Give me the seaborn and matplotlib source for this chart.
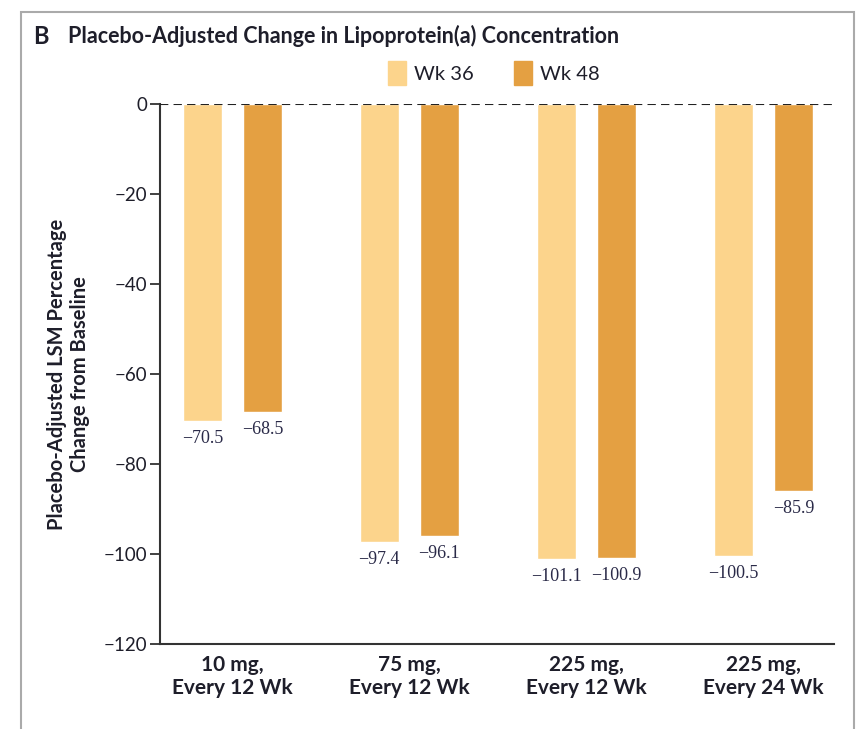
import pandas as pd
import matplotlib.pyplot as plt
from matplotlib.patches import Rectangle
import seaborn as sns

doses = ["10 mg,\nEvery 12 Wk", "75 mg,\nEvery 12 Wk", "225 mg,\nEvery 12 Wk", "225 mg,\nEvery 24 Wk"]
wk36 = [-70.5, -97.4, -101.1, -100.5]
wk48 = [-68.5, -96.1, -100.9, -85.9]
weeks = ["Wk 36", "Wk 48"]
yticks = [0, -20, -40, -60, -80, -100, -120]

df = pd.DataFrame({
    "dose": doses * 2,
    "week": [weeks[0]] * 4 + [weeks[1]] * 4,
    "change": wk36 + wk48,
})

sns.set_style("white")
plt.rcParams["font.family"] = ["Lato", "DejaVu Sans"]
ink = "#1e1e2a"

fig = plt.figure(figsize=(8.59, 7.29), dpi=100)
ax = fig.add_axes([0.186, 0.1166, 0.785, 0.7404])

pal = {"Wk 36": "#fcd48c", "Wk 48": "#e4a042"}
sns.barplot(data=df, x="dose", y="change", hue="week", palette=pal,
            width=0.68, gap=0.35, ax=ax, legend=False, saturation=1)

for cont in ax.containers:
    for bar in cont:
        v = bar.get_height()
        ax.text(bar.get_x() + bar.get_width() / 2, v - 2.0,
                f"\u2212{abs(v):.1f}", ha="center", va="top",
                fontsize=13, family="Liberation Serif", color="#2a2a48")

ax.axhline(0, color="#222", lw=1.5, ls=(0, (4, 2.5)), zorder=5)
ax.set_ylim(-120, 0)
ax.set_xlim(-0.41, 3.40)
ax.set_yticks(yticks)
ax.set_yticklabels([str(t).replace("-", "\u2212") for t in yticks])
ax.tick_params(axis="y", direction="out", length=7, width=1.3, color="#333",
               labelsize=13.5, labelcolor=ink, pad=2, left=True)
ax.tick_params(axis="x", length=0, labelsize=15, labelcolor=ink, pad=8)
for lab in ax.get_xticklabels():
    lab.set_fontweight("bold")
for s in ["top", "right"]:
    ax.spines[s].set_visible(False)
for s in ["left", "bottom"]:
    ax.spines[s].set_color("#333")
    ax.spines[s].set_linewidth(1.5)
ax.spines["left"].set_bounds(-120, 0)
ax.set_xlabel("")
ax.set_ylabel("Placebo-Adjusted LSM Percentage\nChange from Baseline",
              fontsize=14.5, fontweight="bold", color=ink, labelpad=10)

# legend
handles = [Rectangle((0, 0), 1, 1, color=pal[w]) for w in weeks]
fig.legend(handles, weeks, loc="center", bbox_to_anchor=(0.575, 0.9),
           ncol=2, frameon=False, fontsize=14.5, handlelength=0.9,
           handleheight=1.5, handletextpad=0.4, columnspacing=2.0,
           labelcolor=ink)

fig.text(0.038, 0.95, "B", fontsize=17, fontweight="bold", color=ink, va="center")
fig.text(0.079, 0.95, "Placebo-Adjusted Change in Lipoprotein(a) Concentration",
         fontsize=15.5, fontweight="bold", color=ink, va="center")

fig.patches.append(Rectangle((0.024, -0.1), 0.97, 1.083, transform=fig.transFigure,
                             fill=False, ec="#aaaaaa", lw=1.5))

fig.savefig("out.png", dpi=100)
